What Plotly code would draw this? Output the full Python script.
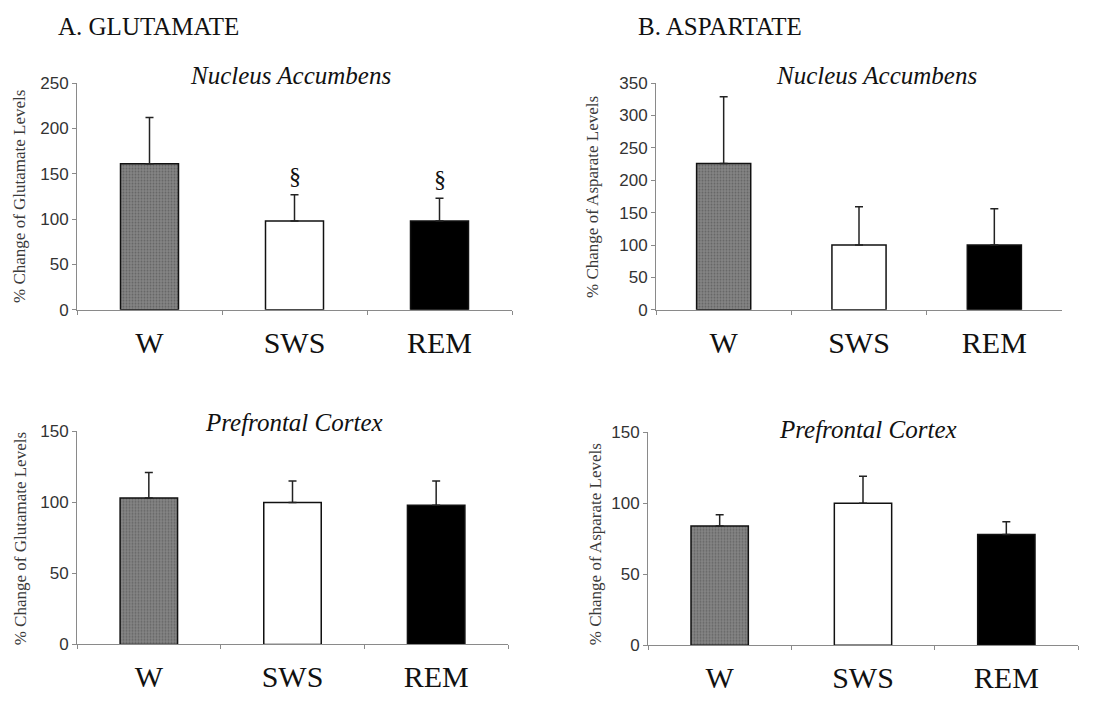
import plotly.graph_objects as go

categories = ["W", "SWS", "REM"]

glu_nac = [161, 98, 98]
glu_nac_err = [51, 29, 25]
asp_nac = [226, 100, 100]
asp_nac_err = [103, 59, 56]
glu_pfc = [103, 100, 98]
glu_pfc_err = [18, 15, 17]
asp_pfc = [84, 100, 78]
asp_pfc_err = [8, 19, 9]

sig_nac_glu = ["", "§", "§"]

bar_bg = ["#858585", "#ffffff", "#000000"]
bar_fg = ["#3c3c3c", "#ffffff", "#000000"]
bar_shape = [".", "", ""]

# page body has an 8px default margin: figure is shifted by it
OFF = 8
W, H = 1120 - OFF, 704 - OFF


def X(px):
    return (px - OFF) / W


def Y(py):
    return 1 - (py - OFF) / H


panels = [
    (glu_nac, glu_nac_err, [X(77), X(512)], [Y(309), Y(76)], [0, 250], 50, "% Change of Glutamate Levels"),
    (asp_nac, asp_nac_err, [X(656), X(1062)], [Y(309), Y(76)], [0, 350], 50, "% Change of Asparate Levels"),
    (glu_pfc, glu_pfc_err, [X(77), X(508)], [Y(653), Y(434)], [0, 150], 50, "% Change of Glutamate Levels"),
    (asp_pfc, asp_pfc_err, [X(648), X(1078)], [Y(654), Y(435)], [0, 150], 50, "% Change of Asparate Levels"),
]

serif = "Liberation Serif, Times New Roman, serif"

fig = go.Figure()
layout = dict(
    width=W, height=H,
    margin=dict(l=0, r=0, t=0, b=0),
    paper_bgcolor="white", plot_bgcolor="white",
    showlegend=False,
)

annotations = []
for i, (vals, errs, xd, yd, yr, dt, ytitle) in enumerate(panels):
    n = "" if i == 0 else str(i + 1)
    fig.add_trace(go.Bar(
        x=categories, y=vals,
        xaxis="x" + n, yaxis="y" + n,
        width=0.4,
        marker=dict(
            color=bar_bg,
            line=dict(color="#111111", width=1.5),
            pattern=dict(shape=bar_shape, fgcolor=bar_fg, bgcolor=bar_bg,
                         size=3, solidity=0.35, fillmode="overlay"),
        ),
        error_y=dict(type="data", symmetric=False, array=errs,
                     arrayminus=[0, 0, 0], color="#222222",
                     thickness=1.5, width=4),
    ))
    layout["xaxis" + n] = dict(
        domain=xd, anchor="y" + n, type="category",
        range=[-0.5, 2.5], tickson="boundaries",
        showline=True, linecolor="#8a8a8a", linewidth=1,
        ticks="outside", ticklen=4, tickcolor="#8a8a8a",
        showgrid=False, zeroline=False,
        tickfont=dict(family=serif, size=30, color="#111111"),
        ticklabelstandoff=6,
        fixedrange=True,
    )
    layout["yaxis" + n] = dict(
        domain=yd, anchor="x" + n, range=yr, dtick=dt,
        showline=True, linecolor="#8a8a8a", linewidth=1,
        ticks="outside", ticklen=4, tickcolor="#8a8a8a",
        showgrid=False, zeroline=False,
        tickfont=dict(family="Liberation Sans, Arial, sans-serif", size=17, color="#333333"),
        fixedrange=True,
    )

# y-axis titles as rotated annotations
ytitle_pos = [(20, 193), (593, 193), (20, 545), (595, 550)]
for (vals, errs, xd, yd, yr, dt, ytitle), (px, py) in zip(panels, ytitle_pos):
    annotations.append(dict(
        text=ytitle, x=X(px), y=Y(py), xref="paper", yref="paper",
        showarrow=False, textangle=-90, xanchor="center", yanchor="middle",
        font=dict(family=serif, size=17, color="#3a3a3a"),
    ))

# headings
annotations.append(dict(text="A. GLUTAMATE", x=X(56), y=Y(18), xref="paper", yref="paper",
                        showarrow=False, xanchor="left", yanchor="middle",
                        font=dict(family=serif, size=25, color="#111111")))
annotations.append(dict(text="B. ASPARTATE", x=X(636), y=Y(18), xref="paper", yref="paper",
                        showarrow=False, xanchor="left", yanchor="middle",
                        font=dict(family=serif, size=25, color="#111111")))

# subtitles
sub_font = dict(family=serif, size=25, color="#111111")
for txt, px, py in [("<i>Nucleus Accumbens</i>", 290, 68), ("<i>Nucleus Accumbens</i>", 876, 68),
                    ("<i>Prefrontal Cortex</i>", 294, 425), ("<i>Prefrontal Cortex</i>", 868, 432)]:
    annotations.append(dict(text=txt, x=X(px), y=Y(py), xref="paper", yref="paper",
                            showarrow=False, xanchor="center", yanchor="middle", font=sub_font))

# significance markers above error bars (Nucleus Accumbens glutamate)
for cat, v, e, s in zip(categories, glu_nac, glu_nac_err, sig_nac_glu):
    if s:
        annotations.append(dict(text=s, x=cat, y=v + e, xref="x", yref="y",
                                showarrow=False, xanchor="center", yanchor="bottom", yshift=4,
                                font=dict(family=serif, size=24, color="#111111")))

layout["annotations"] = annotations
fig.update_layout(**layout)
fig.write_html("out.html")
